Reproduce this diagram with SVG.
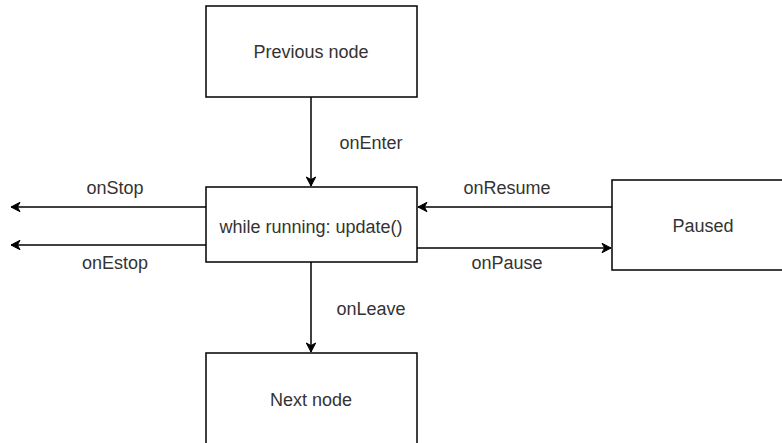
<svg xmlns="http://www.w3.org/2000/svg" width="782" height="443" viewBox="0 0 782 443">
  <style>
    .box { fill: #ffffff; stroke: #000000; stroke-width: 1.5; }
    .edge { fill: none; stroke: #000000; stroke-width: 1.5; }
    .lbl { font-family: "Liberation Sans", Arial, sans-serif; font-size: 18px; fill: #333333; text-anchor: middle; }
  </style>
  <defs>
    <marker id="arrow" markerUnits="userSpaceOnUse" markerWidth="12" markerHeight="12" viewBox="-1 -6 12 12" refX="9" refY="0" orient="auto">
      <path d="M0,-4.7 L9,0 L0,4.7 L2.6,0 Z" fill="#000000" stroke="#000000" stroke-width="1"/>
    </marker>
  </defs>
  <rect width="782" height="443" fill="#ffffff"/>

  <g id="connectors">
    <g id="e-onEnter">
      <line class="edge" x1="311" y1="97" x2="311" y2="186" marker-end="url(#arrow)"/>
      <text class="lbl" x="371" y="149">onEnter</text>
    </g>
    <g id="e-onLeave">
      <line class="edge" x1="311" y1="262" x2="311" y2="352" marker-end="url(#arrow)"/>
      <text class="lbl" x="371" y="315">onLeave</text>
    </g>
    <g id="e-onStop">
      <line class="edge" x1="206" y1="207" x2="11" y2="207" marker-end="url(#arrow)"/>
      <text class="lbl" x="115" y="194">onStop</text>
    </g>
    <g id="e-onEstop">
      <line class="edge" x1="206" y1="245" x2="11" y2="245" marker-end="url(#arrow)"/>
      <text class="lbl" x="115" y="269">onEstop</text>
    </g>
    <g id="e-onResume">
      <line class="edge" x1="612" y1="207" x2="418" y2="207" marker-end="url(#arrow)"/>
      <text class="lbl" x="507" y="193.5">onResume</text>
    </g>
    <g id="e-onPause">
      <line class="edge" x1="417" y1="248" x2="611" y2="248" marker-end="url(#arrow)"/>
      <text class="lbl" x="507" y="268.5">onPause</text>
    </g>
  </g>

  <g id="node-previous">
    <rect class="box" x="206" y="6" width="211" height="91"/>
    <text class="lbl" x="311" y="58">Previous node</text>
  </g>
  <g id="node-running">
    <rect class="box" x="206" y="187" width="211" height="75"/>
    <text class="lbl" x="311" y="233">while running: update()</text>
  </g>
  <g id="node-paused">
    <rect class="box" x="612" y="180" width="182" height="90"/>
    <text class="lbl" x="703" y="232">Paused</text>
  </g>
  <g id="node-next">
    <rect class="box" x="206" y="353" width="211" height="95"/>
    <text class="lbl" x="311" y="405.5">Next node</text>
  </g>
</svg>
